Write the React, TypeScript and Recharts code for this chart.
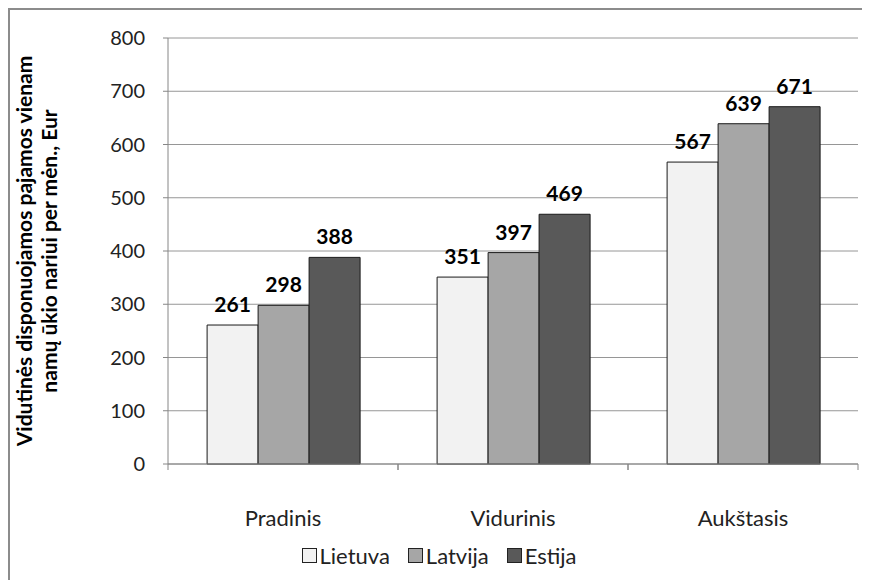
import { BarChart, Bar, XAxis, YAxis, CartesianGrid, Legend, LabelList } from 'recharts'

const categories = ['Pradinis', 'Vidurinis', 'Aukštasis']
const lietuva = [261, 351, 567]
const latvija = [298, 397, 639]
const estija = [388, 469, 671]
const yTicks = [0, 100, 200, 300, 400, 500, 600, 700, 800]

const series = [
  { key: 'Lietuva', values: lietuva, color: '#f2f2f2' },
  { key: 'Latvija', values: latvija, color: '#a6a6a6' },
  { key: 'Estija', values: estija, color: '#595959' },
]

const data = categories.map((name, i) => ({
  name,
  Lietuva: lietuva[i],
  Latvija: latvija[i],
  Estija: estija[i],
}))

const FONT = 'Lato, "Open Sans", sans-serif'
const W = 860
const H = 570
const Y_AXIS_W = 158
const RIGHT = 12
const half = (W - Y_AXIS_W - RIGHT) / categories.length / 2

// category label plus the boundary tick marks Excel draws between groups
const CategoryTick = (props: any) => {
  const { x, y, payload } = props
  const off = payload.offset || half
  return (
    <g>
      <line x1={x - off} y1={y} x2={x - off} y2={y + 6} stroke="#868686" />
      <line x1={x + off} y1={y} x2={x + off} y2={y + 6} stroke="#868686" />
      <text x={x} y={y + 53} textAnchor="middle" dominantBaseline="central" fontSize={22} fill="#222" fontFamily={FONT}>
        {payload.value}
      </text>
    </g>
  )
}

const YTitle = (props: any) => {
  const vb = props.viewBox || { x: 0, y: 28, width: Y_AXIS_W, height: 426 }
  const cy = vb.y + vb.height / 2
  return (
    <g fontFamily={FONT} fontWeight="bold" fontSize={21} fill="#000">
      <text x={13} y={cy} transform={`rotate(-90 13 ${cy})`} textAnchor="middle" dominantBaseline="central">
        Vidutinės disponuojamos pajamos vienam
      </text>
      <text x={38} y={cy} transform={`rotate(-90 38 ${cy})`} textAnchor="middle" dominantBaseline="central">
        namų ūkio nariui per mėn., Eur
      </text>
    </g>
  )
}

const LegendContent = () => (
  <div style={{ display: 'flex', justifyContent: 'center', paddingTop: 18, paddingLeft: 28, fontFamily: FONT, fontSize: 22, color: '#222' }}>
    {series.map((s) => (
      <span key={s.key} style={{ display: 'inline-flex', alignItems: 'center', marginRight: 18 }}>
        <span style={{ width: 13, height: 13, background: s.color, border: '1px solid #222', marginRight: 3, display: 'inline-block' }} />
        {s.key}
      </span>
    ))}
  </div>
)

export default function App() {
  return (
    <div
      style={{
        width: 862,
        height: 572,
        borderTop: '2px solid #8c8c8c',
        borderLeft: '2px solid #8c8c8c',
        background: '#fff',
      }}
    >
      <BarChart
        width={W}
        height={H}
        data={data}
        margin={{ top: 28, right: RIGHT, left: 0, bottom: 0 }}
        barCategoryGap="17%"
        barGap={0}
      >
        <CartesianGrid vertical={false} stroke="#969696" />
        <XAxis
          dataKey="name"
          height={60}
          stroke="#868686"
          tickLine={false}
          tickSize={0}
          tickMargin={0}
          tick={<CategoryTick />}
          interval={0}
        />
        <YAxis
          width={Y_AXIS_W}
          domain={[0, 800]}
          ticks={yTicks}
          stroke="#868686"
          tickSize={5}
          tickMargin={18}
          tick={{ fill: '#222', fontSize: 20, fontFamily: FONT }}
          label={<YTitle />}
        />
        <Legend verticalAlign="bottom" height={56} content={<LegendContent />} />
        {series.map((s) => (
          <Bar key={s.key} dataKey={s.key} fill={s.color} stroke="#1a1a1a" strokeWidth={1} isAnimationActive={false}>
            <LabelList dataKey={s.key} position="top" offset={13} fill="#000" fontSize={21} fontWeight="bold" fontFamily={FONT} />
          </Bar>
        ))}
      </BarChart>
    </div>
  )
}
